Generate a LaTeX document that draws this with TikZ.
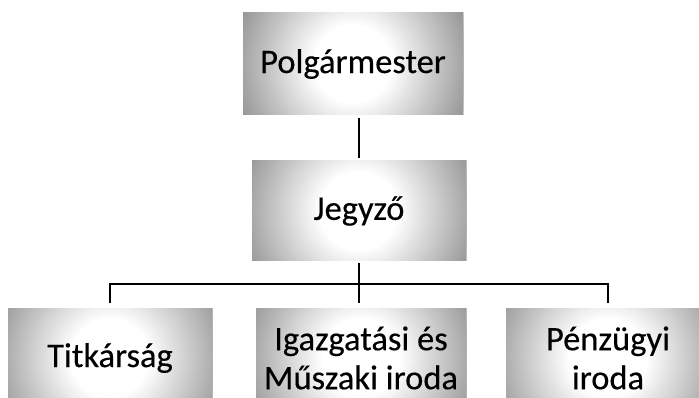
\documentclass[tikz,border=0pt]{standalone}
\usepackage{fontspec}
\setmainfont{Carlito}[FakeBold=0.3]

\tikzset{
  unitbox/.style={minimum width=#1, minimum height=100pt, inner sep=0pt, align=center,
    font=\fontsize{34.5}{39}\selectfont,
    %% rings of grey, lighter towards the middle
    path picture={
      \foreach \r [evaluate=\r as \tone using {min(42,max(0,(\r-40)*0.5))}] in {130,128,...,2}
        \fill[black!\tone] (path picture bounding box.center) circle (\r pt);
    }},
  link/.style={line width=2.8pt}
}

\begin{document}
\begin{tikzpicture}[x=1pt, y=-1pt]

\clip (0,0) rectangle (699,398);

%% leaders
\node[unitbox=220pt, minimum height=102pt] (mayor) at (353,64) {Polgármester};
\node[unitbox=214pt] (notary) at (359,211) {Jegyző};

%% offices
\node[unitbox=204pt] (secretariat) at (110,358) {Titkárság};
\node[unitbox=210pt] (admin) at (361,358) {Igazgatási és\\Műszaki iroda};
\node[unitbox=204pt] (finance) at (608,358) {Pénzügyi\\iroda};

\coordinate (bus) at (359,284);

%% connectors
\draw[link, shorten <=2.5pt, shorten >=2.5pt] (mayor.south -| notary) -- (notary.north);
\draw[link, shorten <=2pt, shorten >=5pt] (notary.south) -- (notary.south |- admin.north);
\draw[link, shorten <=5pt, shorten >=5pt] (secretariat.north) -- (secretariat.north |- bus)
  -- (finance.north |- bus) -- (finance.north);

\end{tikzpicture}
\end{document}
